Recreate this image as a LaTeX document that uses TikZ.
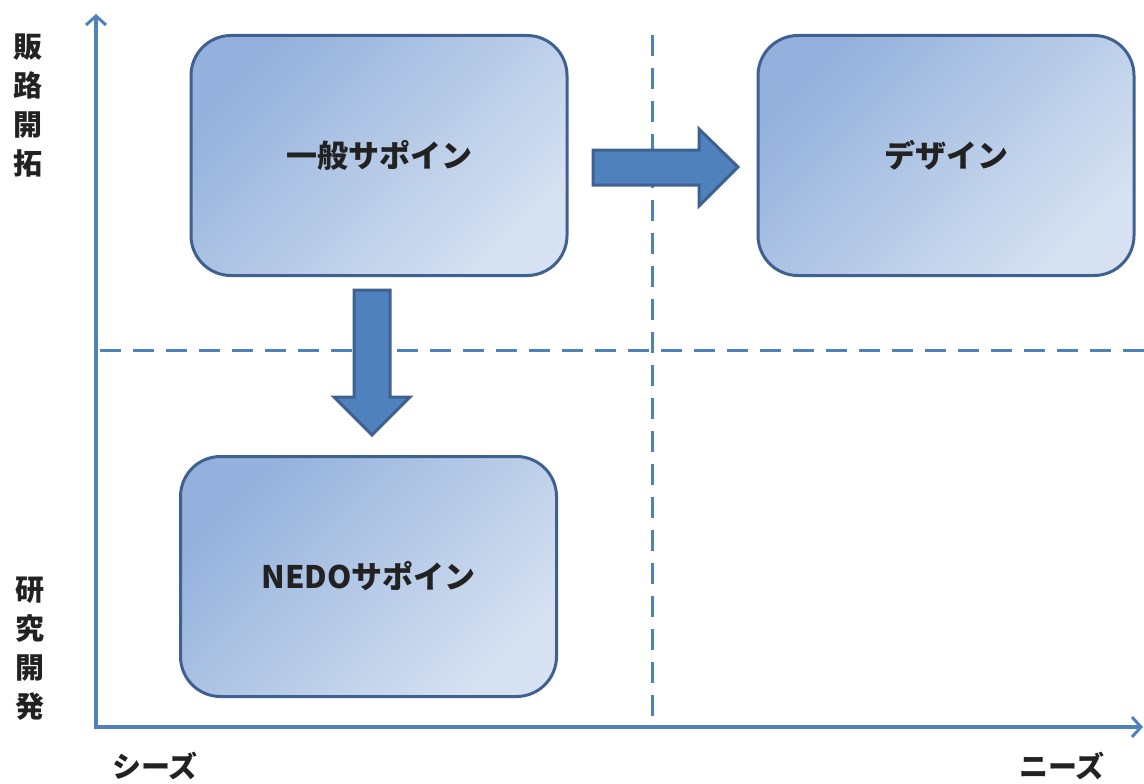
\documentclass[tikz,border=0pt]{standalone}
\usepackage{fontspec}
\usepackage{tikz}
\usetikzlibrary{arrows.meta}
\newfontfamily\jpfont{Noto Sans CJK JP}

\definecolor{axisblue}{HTML}{4F81BD}
\definecolor{boxdark}{HTML}{93B1DC}
\definecolor{boxlight}{HTML}{D6E1F1}
\definecolor{boxline}{HTML}{40618F}
\definecolor{textgray}{HTML}{222222}

\begin{document}
\begin{tikzpicture}[x=1pt, y=-1pt,
    axis/.style={draw=axisblue, line width=4pt, -{Straight Barb[length=9pt, width=20pt, line width=3pt]}},
    divider/.style={draw=axisblue, line width=3pt, dash pattern=on 21pt off 12pt},
    quadbox/.style={draw=boxline, line width=3pt, rounded corners=40pt,
        top color=boxdark, bottom color=boxlight, shading angle=45,
        minimum width=376pt, minimum height=240pt, text=textgray,
        font=\jpfont\bfseries\fontsize{31}{36}\selectfont},
    blockarrow/.style={draw=boxline, line width=3pt, fill=axisblue, line join=miter},
    sidelabel/.style={align=center, inner sep=0pt, text=textgray,
        font=\jpfont\bfseries\fontsize{29}{39}\selectfont}
    ]

    \useasboundingbox (0,0) rectangle (1144,784);

    % axes
    \coordinate (origin) at (96,727);
    \coordinate (ytop) at (96,14);
    \coordinate (xend) at (1143,727);

    % dashed dividers
    \draw[divider] (652,35) -- (652,720);
    \draw[divider] (100,350) -- (1144,350);

    \draw[axis] ([yshift=-2pt]origin) -- (ytop);
    \draw[axis] ([xshift=-2pt]origin) -- (xend);

    % boxes
    \node[quadbox] (general) at (379,155.5) {一般サポイン};
    \node[quadbox] (design) at (946,155.5) {デザイン};
    \node[quadbox] (nedo) at (368.5,576.5) {NEDOサポイン};

    % block arrows
    \draw[blockarrow] (593,150) -- (699,150) -- (699,129) -- (738,167)
        -- (699,206) -- (699,185) -- (593,185) -- cycle;
    \draw[blockarrow] (354,290) -- (390,290) -- (390,397) -- (410,397)
        -- (372,435) -- (334,397) -- (354,397) -- cycle;

    % axis labels
    \node[sidelabel] (market) at (28,106) {販\\路\\開\\拓};
    \node[sidelabel] (research) at (30,649) {研\\究\\開\\発};
    \node[sidelabel] (seeds) at (155,766) {シーズ};
    \node[sidelabel] (needs) at (1062,766) {ニーズ};

\end{tikzpicture}
\end{document}
